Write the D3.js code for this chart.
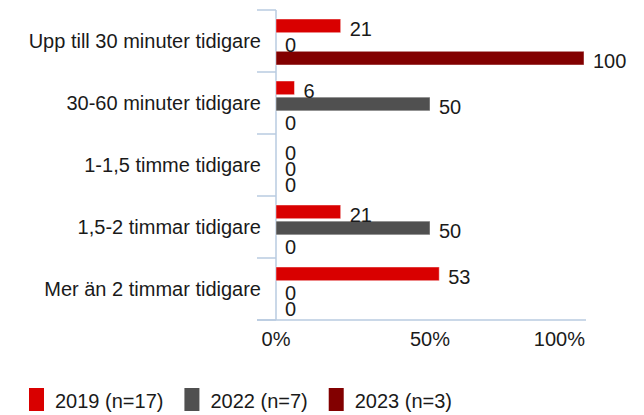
<!DOCTYPE html>
<html lang="sv">
<head>
<meta charset="UTF-8">
<title>Chart</title>
<script src="https://cdn.jsdelivr.net/npm/d3@7"></script>
<style>
    body { margin: 0; background: #fff; }
    svg { display: block; font-family: Arial, "Liberation Sans", sans-serif; }
</style>
</head>
<body>
<script>
    // data
    const categories = [
        "Upp till 30 minuter tidigare",
        "30-60 minuter tidigare",
        "1-1,5 timme tidigare",
        "1,5-2 timmar tidigare",
        "Mer än 2 timmar tidigare"
    ];
    const seriesNames = ["2019 (n=17)", "2022 (n=7)", "2023 (n=3)"];
    const values2019 = [21, 6, 0, 21, 53];
    const values2022 = [0, 50, 0, 50, 0];
    const values2023 = [100, 0, 0, 0, 0];
    const xTicks = [0, 50, 100];
    const colors = ["#d90000", "#505050", "#820000"];

    const width = 644, height = 415;
    const fs = 20;
    const svg = d3.select("body").append("svg")
        .attr("width", width)
        .attr("height", height);

    const x = d3.scaleLinear().domain([0, 100]).range([276, 584]);
    const y0 = d3.scaleBand().domain(categories).range([10, 320]);
    const y1 = d3.scaleBand().domain(d3.range(3)).range([9, 55]).paddingInner(0.15);

    const axisColor = "#b9cbe0";

    // y axis line + ticks at category boundaries
    svg.append("line")
        .attr("x1", x(0)).attr("x2", x(0))
        .attr("y1", y0.range()[0]).attr("y2", y0.range()[1])
        .attr("stroke", axisColor).attr("stroke-width", 1.5);
    const bounds = categories.map(c => y0(c)).concat([y0.range()[1]]);
    svg.selectAll(".ytick")
        .data(bounds)
        .join("line")
        .attr("x1", 257).attr("x2", x(0))
        .attr("y1", d => d).attr("y2", d => d)
        .attr("stroke", axisColor).attr("stroke-width", 1.5);
    // bottom axis line
    svg.append("line")
        .attr("x1", 257).attr("x2", x(100) + 2)
        .attr("y1", 320).attr("y2", 320)
        .attr("stroke", axisColor).attr("stroke-width", 1.5);

    // x tick labels
    svg.selectAll(".xlab")
        .data(xTicks)
        .join("text")
        .attr("x", (d, i) => i === xTicks.length - 1 ? x(d) + 1 : x(d))
        .attr("y", 339)
        .attr("dominant-baseline", "central")
        .attr("text-anchor", (d, i) => i === xTicks.length - 1 ? "end" : "middle")
        .attr("font-size", fs)
        .attr("fill", "#1a1a1a")
        .text(d => d + "%");

    // category labels
    svg.selectAll(".ylab")
        .data(categories)
        .join("text")
        .attr("x", 261)
        .attr("y", d => y0(d) + y0.bandwidth() / 2)
        .attr("dominant-baseline", "central")
        .attr("text-anchor", "end")
        .attr("font-size", fs)
        .attr("fill", "#1a1a1a")
        .text(d => d);

    // bars
    const allSeries = [values2019, values2022, values2023];
    const rows = [];
    categories.forEach((c, ci) => {
        allSeries.forEach((vals, si) => rows.push({ cat: c, s: si, v: vals[ci] }));
    });

    const g = svg.append("g");
    g.selectAll("rect")
        .data(rows.filter(d => d.v > 0))
        .join("rect")
        .attr("x", x(0))
        .attr("y", d => y0(d.cat) + y1(d.s))
        .attr("width", d => x(d.v) - x(0))
        .attr("height", y1.bandwidth())
        .attr("fill", d => colors[d.s])
        .attr("stroke", "rgba(255,255,255,0.45)")
        .attr("stroke-width", 1);

    g.selectAll("text")
        .data(rows)
        .join("text")
        .attr("x", d => x(d.v) + 9)
        .attr("y", d => y0(d.cat) + y1(d.s) + y1.bandwidth() / 2 + 3)
        .attr("dominant-baseline", "central")
        .attr("font-size", fs)
        .attr("fill", "#1a1a1a")
        .text(d => d.v);

    // legend
    const legend = svg.append("g");
    let lx = 29;
    seriesNames.forEach((name, i) => {
        legend.append("rect")
            .attr("x", lx).attr("y", 388)
            .attr("width", 15).attr("height", 23)
            .attr("fill", colors[i]);
        const t = legend.append("text")
            .attr("x", lx + 26).attr("y", 401)
            .attr("dominant-baseline", "central")
            .attr("font-size", fs)
            .attr("fill", "#1a1a1a")
            .text(name);
        lx += 26 + t.node().getComputedTextLength() + 21;
    });
</script>
</body>
</html>
